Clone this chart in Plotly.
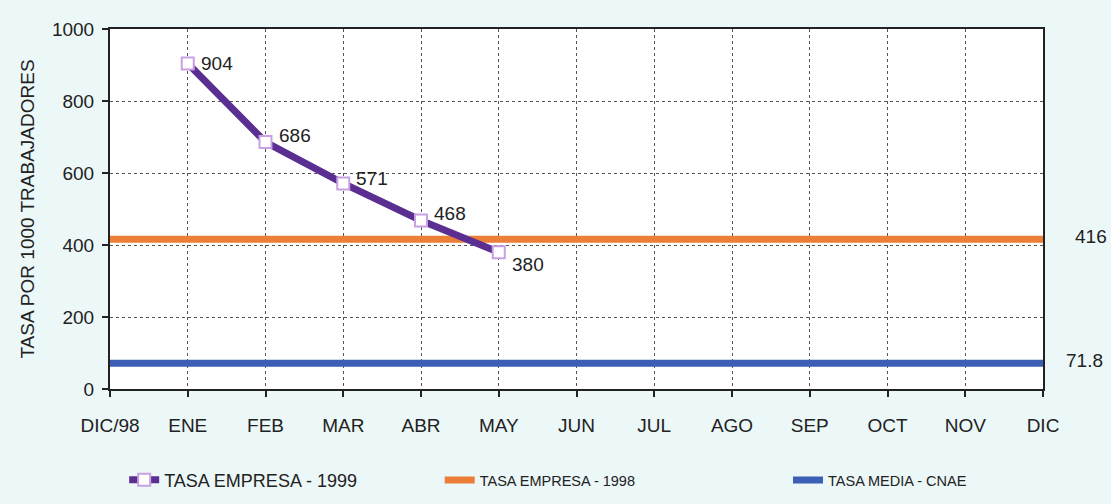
import plotly.graph_objects as go

months = ["DIC/98", "ENE", "FEB", "MAR", "ABR", "MAY", "JUN", "JUL", "AGO", "SEP", "OCT", "NOV", "DIC"]
tasa_1999 = [None, 904, 686, 571, 468, 380, None, None, None, None, None, None, None]
tasa_1998 = [416, 416, 416, 416, 416, 416, 416, 416, 416, 416, 416, 416, 416]
tasa_cnae = [71.8, 71.8, 71.8, 71.8, 71.8, 71.8, 71.8, 71.8, 71.8, 71.8, 71.8, 71.8, 71.8]
label_1999 = ["", "904", "686", "571", "468", "380", "", "", "", "", "", "", ""]
label_1998 = "416"
label_cnae = "71.8"
y_ticks = [0, 200, 400, 600, 800, 1000]

PURPLE = "#5b2f91"
ORANGE = "#ec7f37"
BLUE = "#3b5fb5"
FONT = "Liberation Sans"
TXT = "#222"

fig = go.Figure()
fig.add_trace(go.Scatter(
    x=months, y=tasa_1998, mode="lines", name="TASA EMPRESA - 1998",
    line=dict(color=ORANGE, width=7), legend="legend2"))
fig.add_trace(go.Scatter(
    x=months, y=tasa_cnae, mode="lines", name="TASA MEDIA - CNAE",
    line=dict(color=BLUE, width=7), legend="legend3"))
fig.add_trace(go.Scatter(
    x=months, y=tasa_1999, mode="lines+markers", name="TASA EMPRESA - 1999",
    line=dict(color=PURPLE, width=7),
    marker=dict(symbol="square", size=12, color="white", line=dict(color="#c7a1e2", width=2)),
    cliponaxis=False, legend="legend"))

yshifts = [0, 0, 7, 5, 7, -12]
for i, (m, v, t) in enumerate(zip(months, tasa_1999, label_1999)):
    if v is None:
        continue
    fig.add_annotation(x=m, y=v, text=t, showarrow=False, xanchor="left",
                       xshift=11, yshift=yshifts[i],
                       font=dict(family=FONT, size=19, color=TXT))

fig.add_annotation(x=months[-1], y=tasa_1998[-1], text=label_1998, showarrow=False,
                   xanchor="left", xshift=30, yshift=3,
                   font=dict(family=FONT, size=19, color=TXT))
fig.add_annotation(x=months[-1], y=tasa_cnae[-1], text=label_cnae, showarrow=False,
                   xanchor="left", xshift=21, yshift=3,
                   font=dict(family=FONT, size=19, color=TXT))

legend_common = dict(y=-0.253, xanchor="left", yanchor="middle", orientation="h",
                     bgcolor="rgba(0,0,0,0)")
fig.update_layout(
    width=1111, height=504,
    margin=dict(l=110, r=68, t=29, b=115, autoexpand=False),
    paper_bgcolor="#ecf7f7", plot_bgcolor="white",
    font=dict(family=FONT, color=TXT),
    showlegend=True,
    legend=dict(x=0.0152, font=dict(size=18, family=FONT, color=TXT), **legend_common),
    legend2=dict(x=0.3534, font=dict(size=14.5, family=FONT, color=TXT), **legend_common),
    legend3=dict(x=0.7267, font=dict(size=14.5, family=FONT, color=TXT), **legend_common),
    xaxis=dict(
        type="category", range=[0, len(months) - 1],
        showgrid=True, gridcolor="#555", griddash="dot", gridwidth=1,
        showline=True, linecolor="#222", linewidth=2, mirror=True,
        ticks="outside", ticklen=6, tickcolor="#222", tickwidth=1.5,
        tickfont=dict(size=19, family=FONT, color=TXT),
        ticklabelstandoff=12, zeroline=False, automargin=False),
    yaxis=dict(
        range=[0, 1000], tickvals=y_ticks,
        showgrid=True, gridcolor="#555", griddash="dot", gridwidth=1,
        showline=True, linecolor="#222", linewidth=2, mirror=True,
        ticks="outside", ticklen=6, tickcolor="#222", tickwidth=1.5,
        tickfont=dict(size=19, family=FONT, color=TXT),
        ticklabelstandoff=4, zeroline=False, automargin=False,
        title=dict(text="TASA POR 1000 TRABAJADORES", standoff=12,
                   font=dict(size=19, family=FONT, color=TXT))),
)

fig.write_html("out.html", config={"displayModeBar": False},
               post_script="document.body.style.margin='0';")
